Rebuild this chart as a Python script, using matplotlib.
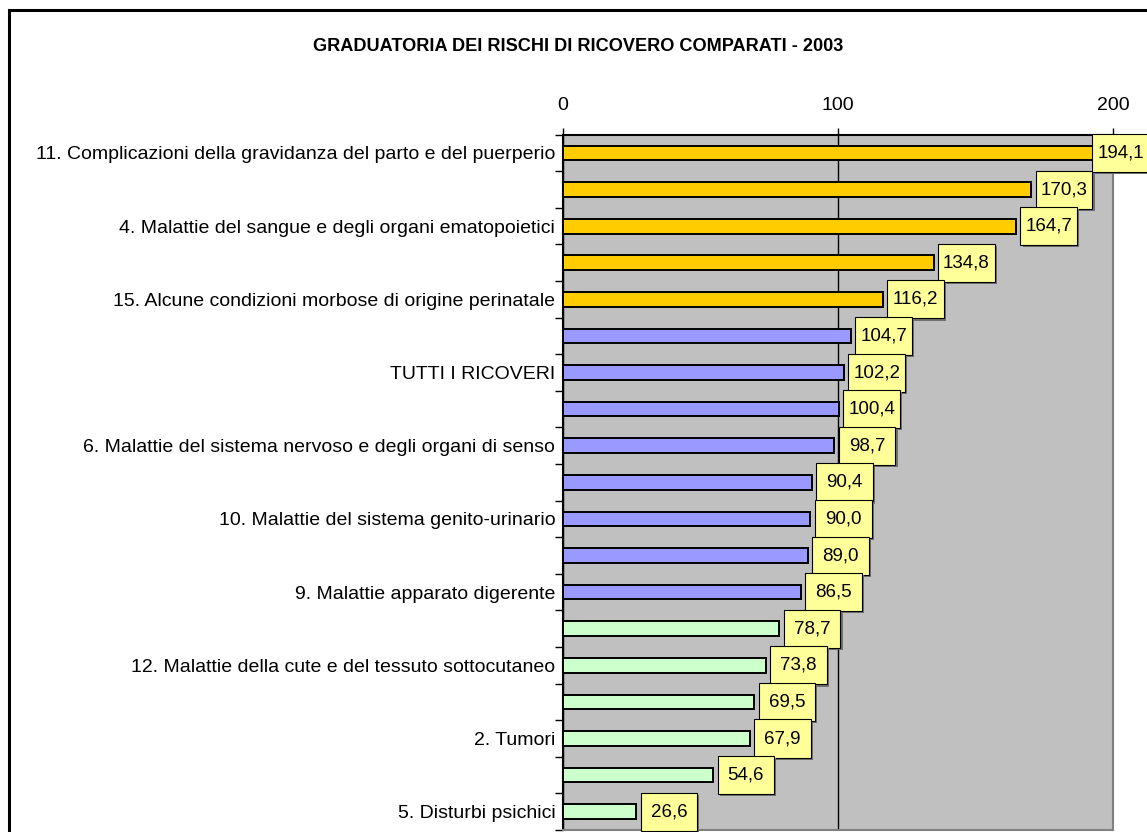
import matplotlib.pyplot as plt
import numpy as np

plt.rcParams['font.family'] = ['Liberation Sans', 'DejaVu Sans']

# categorie (solo quelle etichettate in grafico), valori e gruppo di colore
categorie = [
    '11. Complicazioni della gravidanza del parto e del puerperio', '',
    '4. Malattie del sangue e degli organi ematopoietici', '',
    '15. Alcune condizioni morbose di origine perinatale', '',
    'TUTTI I RICOVERI', '',
    '6. Malattie del sistema nervoso e degli organi di senso', '',
    '10. Malattie del sistema genito-urinario', '',
    '9. Malattie apparato digerente', '',
    '12. Malattie della cute e del tessuto sottocutaneo', '',
    '2. Tumori', '',
    '5. Disturbi psichici',
]
valori = [194.1, 170.3, 164.7, 134.8, 116.2, 104.7, 102.2, 100.4, 98.7, 90.4,
          90.0, 89.0, 86.5, 78.7, 73.8, 69.5, 67.9, 54.6, 26.6]
gruppi = ['alto'] * 5 + ['medio'] * 8 + ['basso'] * 6
colori_gruppo = {'alto': '#FFCC00', 'medio': '#9999FF', 'basso': '#CCFFCC'}

fig = plt.figure(figsize=(11.47, 8.32), dpi=100)
fig.patches.append(plt.Rectangle((0.0075, -0.1), 1.1, 1.0880, transform=fig.transFigure,
                                 fill=False, edgecolor='black', linewidth=2.2))
ax = fig.add_axes([0.4908, 0.0024, 0.4796, 0.8357])
ax.set_facecolor('#C0C0C0')

y = np.arange(len(valori))
colori = [colori_gruppo[g] for g in gruppi]
ax.barh(y, valori, height=0.4, color=colori, edgecolor='black', linewidth=1.4, zorder=3)

ax.set_xlim(0, 200)
ax.set_ylim(len(valori) - 0.5, -0.5)
ax.xaxis.tick_top()
ax.set_xticks([0, 100, 200])
ax.tick_params(axis='x', length=5, width=1, labelsize=14, pad=10)
ax.grid(axis='x', color='black', linewidth=1, zorder=1)

ax.set_yticks(y)
ax.set_yticklabels(categorie, fontsize=14)
ax.tick_params(axis='y', length=0, pad=5.5)
ax.set_yticks(np.arange(len(valori) + 1) - 0.5, minor=True)
ax.tick_params(axis='y', which='minor', length=6, width=1)

ax.spines['left'].set_color('black')
ax.spines['top'].set_color('black')
ax.spines['right'].set_color('#808080')
ax.spines['bottom'].set_color('#808080')
for s in ax.spines.values():
    s.set_linewidth(1.5)

# etichette dei valori nei riquadri gialli con ombra
larg, alt, scarto = 20.6, 1.04, 1.6
for i, (yi, v) in enumerate(zip(y, valori)):
    x0 = min(v + scarto, 192.4)
    z = 5 + i * 0.1
    ax.add_patch(plt.Rectangle((x0 + 0.8, yi - alt / 2 + 0.06), larg, alt,
                               facecolor='#707070', edgecolor='none',
                               clip_on=False, zorder=z))
    ax.add_patch(plt.Rectangle((x0, yi - alt / 2), larg, alt,
                               facecolor='#FFFF99', edgecolor='black', linewidth=0.8,
                               clip_on=False, zorder=z + 0.01))
    ax.text(x0 + larg / 2, yi, f'{v:.1f}'.replace('.', ','), ha='center', va='center',
            fontsize=13.5, zorder=z + 0.02, clip_on=False)

fig.text(0.504, 0.944, 'GRADUATORIA DEI RISCHI DI RICOVERO COMPARATI - 2003',
         ha='center', va='center', fontsize=13.1, fontweight='bold')

fig.savefig('out.png', dpi=100)
